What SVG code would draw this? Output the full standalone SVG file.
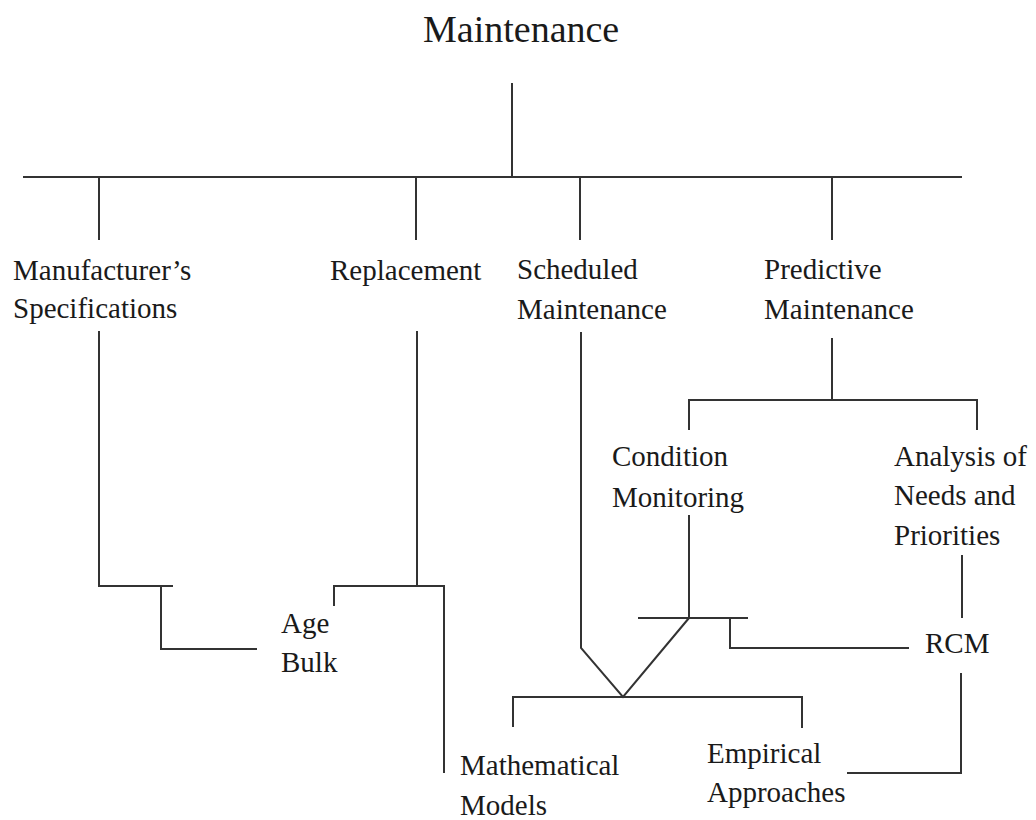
<svg xmlns="http://www.w3.org/2000/svg" width="1036" height="820" viewBox="0 0 1036 820">
<rect width="1036" height="820" fill="#fff"/>
<g id="connectors" stroke="#333" stroke-width="2" fill="none">
<line x1="512" y1="83" x2="512" y2="177"/>
<line x1="23" y1="177" x2="962" y2="177"/>
<line x1="99" y1="177" x2="99" y2="240"/>
<line x1="416" y1="177" x2="416" y2="240"/>
<line x1="580" y1="177" x2="580" y2="240"/>
<line x1="832" y1="177" x2="832" y2="240"/>
<polyline points="99,331 99,586 173,586"/>
<polyline points="161,586 161,649 257,649"/>
<line x1="417" y1="331" x2="417" y2="586"/>
<polyline points="334,606 334,586 444,586 444,773"/>
<polyline points="581,332 581,648 623,697 689,618"/>
<polyline points="832,338 832,400"/>
<polyline points="689,430 689,400 977,400 977,430"/>
<line x1="689" y1="515" x2="689" y2="618"/>
<line x1="638" y1="618" x2="748" y2="618"/>
<polyline points="730,618 730,648 909,648"/>
<line x1="962" y1="555" x2="962" y2="618"/>
<polyline points="513,727 513,697 802,697 802,728"/>
<polyline points="961,673 961,773 847,773"/>
</g>
<g font-family="'Times New Roman', 'Liberation Serif', serif" font-size="29" fill="#1a1a1a">
<g id="n-maintenance"><text x="423" y="42" font-size="38">Maintenance</text></g>
<g id="n-manufacturer"><text x="13" y="280">Manufacturer’s</text><text x="13" y="318">Specifications</text></g>
<g id="n-replacement"><text x="330" y="280">Replacement</text></g>
<g id="n-scheduled"><text x="517" y="279">Scheduled</text><text x="517" y="319">Maintenance</text></g>
<g id="n-predictive"><text x="764" y="279">Predictive</text><text x="764" y="319">Maintenance</text></g>
<g id="n-condition"><text x="612" y="466">Condition</text><text x="612" y="507">Monitoring</text></g>
<g id="n-analysis"><text x="894" y="466">Analysis of</text><text x="894" y="505">Needs and</text><text x="894" y="545">Priorities</text></g>
<g id="n-agebulk"><text x="281" y="633">Age</text><text x="281" y="672">Bulk</text></g>
<g id="n-rcm"><text x="925" y="653">RCM</text></g>
<g id="n-mathematical"><text x="460" y="775">Mathematical</text><text x="460" y="815">Models</text></g>
<g id="n-empirical"><text x="707" y="763">Empirical</text><text x="707" y="802">Approaches</text></g>
</g>
</svg>
